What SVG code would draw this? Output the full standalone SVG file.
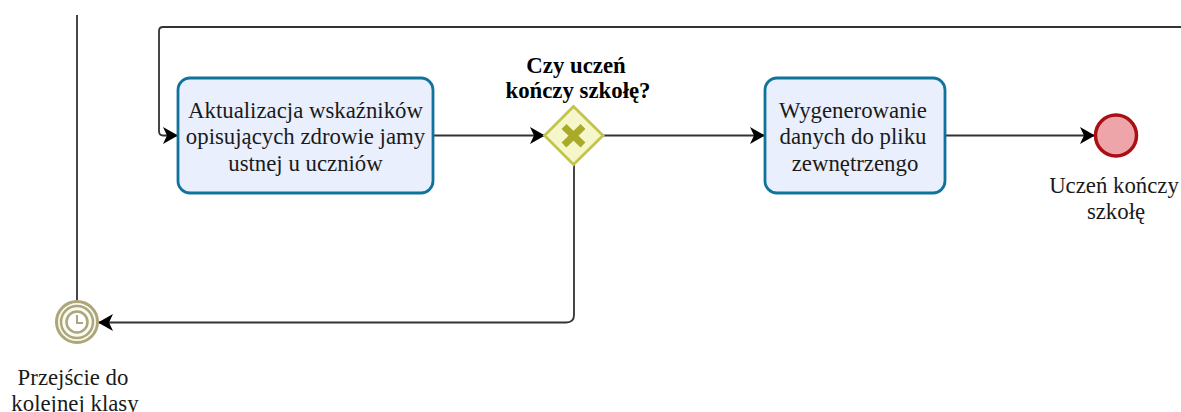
<svg xmlns="http://www.w3.org/2000/svg" width="1181" height="412" viewBox="0 0 1181 412">
<style>
text{font-family:"Liberation Serif","Times New Roman",serif;font-size:22.800px;fill:#1a1a1a;text-anchor:middle}
.b{font-weight:bold;fill:#000}
.c{fill:none;stroke:#333;stroke-width:1.800}
.t{fill:#e9effc;stroke:#10739e;stroke-width:2.800}
.tm{fill:none;stroke:#a9a77b;stroke-width:2.500}
</style>
<defs><marker id="a" markerUnits="userSpaceOnUse" markerWidth="18" markerHeight="20" refX="15" refY="10" orient="auto"><path d="M0 1.500L15 10L0 18.500L4 10Z" fill="#000"/></marker></defs>
<rect width="1181" height="412" fill="#fff"/>
<g id="connectors">
<path class="c" d="M77 15V303"/>
<path class="c" d="M1181 27H163Q159 27 159 31V131Q159 135.500 163 135.500H178" marker-end="url(#a)"/>
<path class="c" d="M433 135.500H545" marker-end="url(#a)"/>
<path class="c" d="M602 135.500H765" marker-end="url(#a)"/>
<path class="c" d="M945 135.500H1095" marker-end="url(#a)"/>
<path class="c" d="M574 164V315Q574 322.500 566 322.500H98" marker-end="url(#a)"/>
</g>
<g id="task1"><rect class="t" x="178" y="78" width="255" height="115" rx="12"/>
<text x="305.500" y="118">Aktualizacja wskaźników</text><text x="305.500" y="144">opisujących zdrowie jamy</text><text x="305.500" y="171">ustnej u uczniów</text></g>
<g id="gateway"><path d="M573.500 106.500L603 135.500L573.500 164.500L544.500 135.500Z" fill="#f6f6cb" stroke="#c3c34f" stroke-width="2.800"/>
<path d="M564 126.500L583 145M583 126.500L564 145" stroke="#a9a92a" stroke-width="7" fill="none"/>
<text class="b" x="576" y="73">Czy uczeń</text><text class="b" x="578" y="98">kończy szkołę?</text></g>
<g id="task2"><rect class="t" x="765" y="78" width="180" height="115" rx="12"/>
<text x="853" y="118">Wygenerowanie</text><text x="853" y="144">danych do pliku</text><text x="855" y="171">zewnętrzengo</text></g>
<g id="end"><circle cx="1116" cy="135.500" r="20.500" fill="#eda5a9" stroke="#a90f14" stroke-width="3.500"/>
<text x="1114" y="193">Uczeń kończy</text><text x="1116" y="219">szkołę</text></g>
<g id="timer"><circle cx="77" cy="322" r="20.500" fill="#fbfaf0" stroke="#aca67a" stroke-width="3"/>
<circle cx="77" cy="322" r="16" class="tm"/><circle cx="77" cy="322" r="10.500" class="tm" style="fill:#fff"/>
<path d="M77 315V323H83" class="tm" style="stroke-width:2"/>
<text x="73" y="385">Przejście do</text><text x="75" y="411">kolejnej klasy</text></g>
</svg>
